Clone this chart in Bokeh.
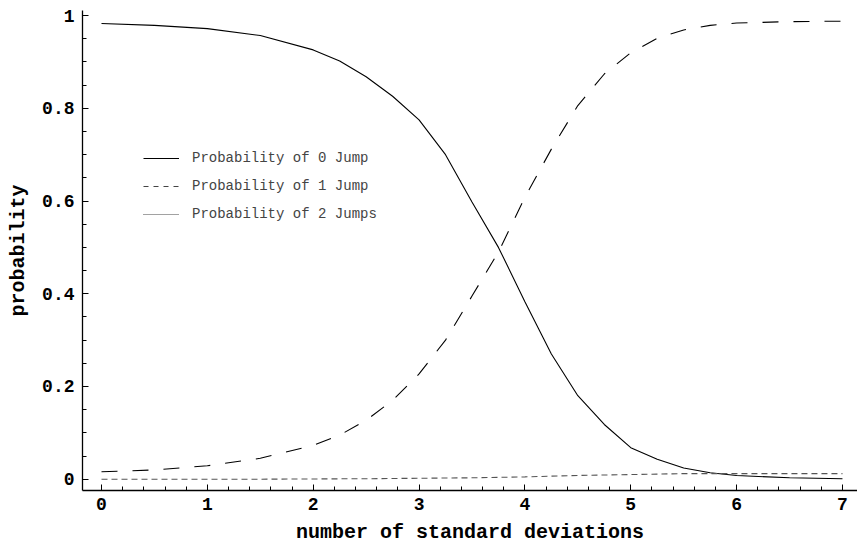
from bokeh.plotting import figure
from bokeh.models import Range1d, Legend, LegendItem, FixedTicker, ColumnDataSource
from bokeh.embed import file_html
from bokeh.resources import INLINE

# number of standard deviations
x_vals = [0, 0.5, 1, 1.5, 2, 2.25, 2.5, 2.75, 3, 3.25, 3.5, 3.75, 4, 4.25,
          4.5, 4.75, 5, 5.25, 5.5, 5.75, 6, 6.5, 7]
p_zero = [0.983, 0.979, 0.972, 0.957, 0.926, 0.902, 0.868, 0.826, 0.775, 0.700,
          0.598, 0.500, 0.383, 0.270, 0.180, 0.118, 0.068, 0.043, 0.024, 0.014,
          0.008, 0.003, 0.001]
p_one = [0.016, 0.020, 0.029, 0.045, 0.073, 0.095, 0.127, 0.170, 0.227, 0.300,
         0.395, 0.490, 0.608, 0.712, 0.806, 0.874, 0.920, 0.951, 0.969, 0.979,
         0.984, 0.987, 0.988]
p_two = [0.000, 0.000, 0.000, 0.000, 0.0005, 0.0008, 0.001, 0.0015, 0.002, 0.0025,
         0.003, 0.004, 0.005, 0.0065, 0.008, 0.009, 0.010, 0.011, 0.012, 0.012,
         0.012, 0.012, 0.012]
labels = ["Probability of 0 Jump", "Probability of 1 Jump", "Probability of 2 Jumps"]
x_ticks = [0, 1, 2, 3, 4, 5, 6, 7]
y_ticks = [0, 0.2, 0.4, 0.6, 0.8, 1]
y_tick_labels = {0: "0", 0.2: "0.2", 0.4: "0.4", 0.6: "0.6", 0.8: "0.8", 1: "1"}

MONO = "Courier New, Courier, Liberation Mono, monospace"

p = figure(width=857, height=546, output_backend="svg", toolbar_location=None,
           x_range=Range1d(-0.1795, 7.142), y_range=Range1d(-0.0244, 1.011),
           min_border_left=82, min_border_right=0, min_border_top=10,
           min_border_bottom=56)
p.outline_line_color = None
p.grid.visible = False
p.background_fill_color = "white"
p.border_fill_color = "white"

r0 = p.line(x_vals, p_zero, line_color="black", line_width=1.1)
r1 = p.line(x_vals, p_one, line_color="black", line_width=1.1, line_dash="16 15")
r2 = p.line(x_vals, p_two, line_color="#555555", line_width=1.1, line_dash="6 4")

# legend sample styles (proxy renderers, nothing drawn in the plot area)
nan = float("nan")
proxy = ColumnDataSource(data=dict(x=[nan, nan], y=[nan, nan]))
l0 = p.line("x", "y", source=proxy, line_color="black", line_width=1.2)
l1 = p.line("x", "y", source=proxy, line_color="#444444", line_width=1.2, line_dash="5 5")
l2 = p.line("x", "y", source=proxy, line_color="#444444", line_width=1, line_dash="1 1")

legend = Legend(items=[LegendItem(label=labels[0], renderers=[l0]),
                       LegendItem(label=labels[1], renderers=[l1]),
                       LegendItem(label=labels[2], renderers=[l2])],
                location=(61, 266), margin=0, padding=0, spacing=8,
                glyph_width=36, glyph_height=20, label_height=20,
                label_standoff=13, border_line_alpha=0, background_fill_alpha=0,
                label_text_font=MONO, label_text_font_size="14px",
                label_text_color="#444444")
p.add_layout(legend, "center")

for ax in (p.xaxis[0], p.yaxis[0]):
    ax.axis_line_color = "black"
    ax.axis_line_width = 1.3
    ax.major_tick_in = 6
    ax.major_tick_out = 0
    ax.minor_tick_in = 4
    ax.minor_tick_out = 0
    ax.major_tick_line_color = "black"
    ax.minor_tick_line_color = "black"
    ax.major_label_text_font = MONO
    ax.major_label_text_font_style = "bold"
    ax.major_label_text_font_size = "18px"
    ax.major_label_text_color = "black"
    ax.axis_label_text_font = MONO
    ax.axis_label_text_font_style = "bold"
    ax.axis_label_text_font_size = "20px"
    ax.axis_label_text_color = "black"

p.xaxis.ticker = FixedTicker(ticks=x_ticks,
                             minor_ticks=[i * 0.2 for i in range(0, 36) if i % 5 != 0])
p.yaxis.ticker = FixedTicker(ticks=y_ticks,
                             minor_ticks=[i * 0.05 for i in range(0, 21) if i % 4 != 0])
p.yaxis.major_label_overrides = y_tick_labels
p.xaxis.major_label_standoff = 7
p.yaxis.major_label_standoff = 8
p.xaxis.axis_label = "number of standard deviations"
p.yaxis.axis_label = "probability"
p.xaxis.axis_label_standoff = 8
p.yaxis.axis_label_standoff = 9

open("out.html", "w").write(file_html(p, INLINE))
